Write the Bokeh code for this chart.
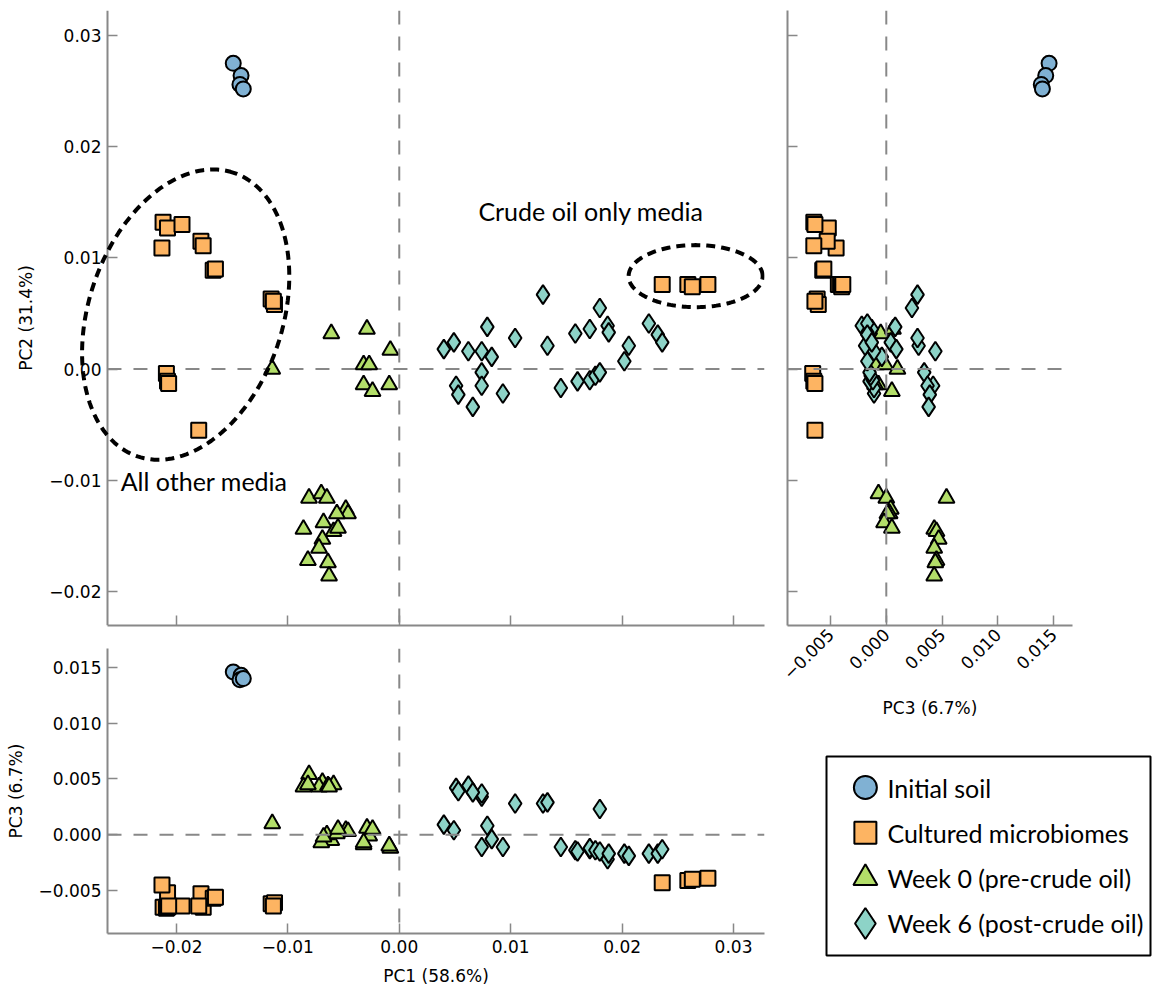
import math
from bokeh.plotting import figure
from bokeh.layouts import row, column
from bokeh.models import (Range1d, Span, FixedTicker, CustomJSTickFormatter,
                          ColumnDataSource, PolyAnnotation)
from bokeh.core.properties import value
from bokeh.embed import file_html
from bokeh.resources import INLINE

# ---------------- data ----------------
series_names = ["Initial soil", "Cultured microbiomes",
                "Week 0 (pre-crude oil)", "Week 6 (post-crude oil)"]

soil_pc1 = [-0.0149, -0.0142, -0.0143, -0.0140]
soil_pc2 = [0.0275, 0.0264, 0.0256, 0.0252]
soil_pc3 = [0.0146, 0.0143, 0.0139, 0.0140]

cult_pc1 = [-0.0212, -0.0208, -0.0195, -0.0213, -0.0178, -0.0176, -0.0167, -0.0165,
            -0.0115, -0.0112, -0.0113, -0.0209, -0.0208, -0.0207, -0.0180,
            0.0236, 0.0259, 0.0263, 0.0277]
cult_pc2 = [0.0132, 0.0127, 0.0130, 0.0109, 0.0115, 0.0111, 0.0089, 0.0090,
            0.0063, 0.0058, 0.0061, -0.0004, -0.0011, -0.0013, -0.0055,
            0.0076, 0.0076, 0.0074, 0.0076]
cult_pc3 = [-0.0065, -0.0052, -0.0064, -0.0045, -0.0053, -0.0065, -0.0057, -0.0056,
            -0.0062, -0.0061, -0.0064, -0.0066, -0.0065, -0.0064, -0.0064,
            -0.0043, -0.0041, -0.0040, -0.0039]

wk0_pc1 = [-0.0061, -0.0029, -0.0008, -0.0032, -0.0027, -0.0032, -0.0024, -0.0009, -0.0114,
           -0.0081, -0.0070, -0.0065, -0.0048, -0.0046, -0.0056, -0.0086, -0.0068,
           -0.0059, -0.0055, -0.0069, -0.0072, -0.0082, -0.0064, -0.0063]
wk0_pc2 = [0.0032, 0.0036, 0.0017, 0.0004, 0.0004, -0.0014, -0.0020, -0.0014, 0.0000,
           -0.0116, -0.0112, -0.0116, -0.0126, -0.0130, -0.0130, -0.0144, -0.0138,
           -0.0146, -0.0143, -0.0153, -0.0161, -0.0172, -0.0174, -0.0186]
wk0_pc3 = [-0.0005, 0.0006, -0.0012, -0.0009, -0.0001, -0.0007, 0.0005, -0.0010, 0.0010,
           0.0054, -0.0007, 0.0000, 0.0004, 0.0003, 0.0001, 0.0043, -0.0002,
           0.0045, 0.0005, 0.0047, 0.0043, 0.0045, 0.0044, 0.0043]

wk6_pc1 = [0.0129, 0.0133, 0.0180, 0.0104, 0.0062, 0.0074, 0.0051, 0.0074, 0.0053, 0.0066,
           0.0079, 0.0049, 0.0040, 0.0083, 0.0093, 0.0074, 0.0145, 0.0158, 0.0160, 0.0171,
           0.0171, 0.0176, 0.0180, 0.0187, 0.0188, 0.0202, 0.0206, 0.0224, 0.0232, 0.0236]
wk6_pc2 = [0.0067, 0.0021, 0.0055, 0.0028, 0.0016, -0.0003, -0.0015, -0.0015, -0.0023, -0.0034,
           0.0038, 0.0024, 0.0018, 0.0011, -0.0022, 0.0016, -0.0017, 0.0032, -0.0011, 0.0036,
           -0.0010, -0.0006, -0.0003, 0.0039, 0.0033, 0.0007, 0.0021, 0.0041, 0.0031, 0.0024]
wk6_pc3 = [0.0028, 0.0029, 0.0023, 0.0028, 0.0044, 0.0034, 0.0042, 0.0037, 0.0039, 0.0038,
           0.0008, 0.0004, 0.0009, -0.0004, -0.0011, -0.0011, -0.0011, -0.0014, -0.0015, -0.0013,
           -0.0012, -0.0014, -0.0015, -0.0022, -0.0017, -0.0017, -0.0019, -0.0017, -0.0017, -0.0013]

pc1_ticks = [-0.02, -0.01, 0.0, 0.01, 0.02, 0.03]
pc2_ticks = [-0.02, -0.01, 0.0, 0.01, 0.02, 0.03]
pc3_ticks = [-0.005, 0.0, 0.005, 0.010, 0.015]

pc1_title = "PC1 (58.6%)"
pc2_title = "PC2 (31.4%)"
pc3_title = "PC3 (6.7%)"

note_text = ["Crude oil only media", "All other media"]
note_pc1 = [0.0071, -0.0250]
note_pc2 = [0.0142, -0.0101]

# grouping ellipses: centre, full axes lengths, tilt
ell_pc1 = [-0.01917, 0.0266]
ell_pc2 = [0.0049, 0.00836]
ell_w = [0.02693, 0.01203]
ell_h = [0.01739, 0.00558]
ell_angle_deg = [71.3, 0.0]

PC1_LIM = (-0.02619, 0.03278)
PC2_LIM = (-0.02306, 0.03225)
PC3_LIM = (-0.00886, 0.0167)
MAIN_PC1_VIEW = (-0.03579, 0.03278)   # room left of the spine for labels and the ellipse

# ---------------- styles ----------------
styles = [
    dict(marker="circle", color="#80B1D3", size=15, leg=23),
    dict(marker="square", color="#FDB462", size=15, leg=22),
    dict(marker="triangle", color="#B3DE69", size=16, leg=24),
    dict(marker="diamond", color="#8DD3C7", size=19, leg=31),
]
SPINE = "#888888"
TICK_FONT = "DejaVu Sans"
NOTE_FONT = "Lato"
ZERO_DASH = "14 12"


def fmt(d):
    return CustomJSTickFormatter(args=dict(d=d), code="""
        const s = Math.abs(tick).toFixed(d);
        return (tick < -1e-12 ? "\\u2212" : "") + s;
    """)


def make_fig(width, height, xr, yr, borders):
    p = figure(width=width, height=height, title=None,
               x_range=Range1d(*xr), y_range=Range1d(*yr),
               output_backend="svg", toolbar_location=None,
               min_border_left=borders[0], min_border_right=borders[1],
               min_border_top=borders[2], min_border_bottom=borders[3])
    p.frame_align = False
    p.outline_line_color = None
    p.grid.visible = False
    p.background_fill_color = "white"
    p.border_fill_color = "white"
    for ax in p.axis:
        ax.axis_line_color = SPINE
        ax.axis_line_width = 2
        ax.major_tick_line_color = SPINE
        ax.major_tick_line_width = 1.5
        ax.major_tick_in = 10
        ax.major_tick_out = 0
        ax.minor_tick_line_color = None
        ax.major_label_text_font = TICK_FONT
        ax.major_label_text_font_size = "17px"
        ax.major_label_text_color = "black"
        ax.major_label_standoff = 6
        ax.axis_label_text_font = TICK_FONT
        ax.axis_label_text_font_size = "17px"
        ax.axis_label_text_font_style = "normal"
        ax.axis_label_text_color = "black"
        ax.axis_label_standoff = 10
    return p


def hide_labels(ax):
    ax.formatter = CustomJSTickFormatter(code='return "";')
    ax.major_label_text_font_size = "0px"
    ax.major_label_text_color = None
    ax.major_label_standoff = 0


def zero_span(p, dim):
    p.add_layout(Span(location=0, dimension=dim, line_color=SPINE,
                      line_width=2, line_dash=ZERO_DASH))


def ellipse_outline(cx, cy, w, h, ang_deg, n=180):
    th = math.radians(ang_deg)
    xs, ys = [], []
    for k in range(n):
        t = 2 * math.pi * k / n
        ex, ey = 0.5 * w * math.cos(t), 0.5 * h * math.sin(t)
        xs.append(cx + ex * math.cos(th) - ey * math.sin(th))
        ys.append(cy + ex * math.sin(th) + ey * math.cos(th))
    return xs, ys


# main panel (PC1 vs PC2)
p_main = make_fig(774, 633, MAIN_PC1_VIEW, PC2_LIM, (0, 10, 10, 8))
p_main.xaxis.ticker = FixedTicker(ticks=pc1_ticks)
p_main.xaxis.bounds = PC1_LIM
p_main.yaxis.ticker = FixedTicker(ticks=pc2_ticks)
p_main.yaxis.formatter = fmt(2)
p_main.yaxis.axis_label = pc2_title
p_main.yaxis.fixed_location = PC1_LIM[0]
hide_labels(p_main.xaxis[0])
zero_span(p_main, "height")
p_main.segment(x0=[PC1_LIM[0]], y0=[0], x1=[PC1_LIM[1]], y1=[0],
               line_color=SPINE, line_width=2, line_dash=ZERO_DASH)

# right panel (PC3 vs PC2)
p_right = make_fig(378, 730, PC3_LIM, PC2_LIM, (13, 80, 10, 105))
p_right.xaxis.ticker = FixedTicker(ticks=pc3_ticks)
p_right.xaxis.formatter = fmt(3)
p_right.xaxis.major_label_orientation = math.pi / 4
p_right.xaxis.axis_label = pc3_title
p_right.yaxis.ticker = FixedTicker(ticks=pc2_ticks)
hide_labels(p_right.yaxis[0])
zero_span(p_right, "width")
zero_span(p_right, "height")

# bottom panel (PC1 vs PC3)
p_bot = make_fig(774, 355, PC1_LIM, PC3_LIM, (107, 10, 15, 55))
p_bot.xaxis.ticker = FixedTicker(ticks=pc1_ticks)
p_bot.xaxis.formatter = fmt(2)
p_bot.xaxis.axis_label = pc1_title
p_bot.xaxis.axis_label_standoff = 10
p_bot.yaxis.ticker = FixedTicker(ticks=pc3_ticks)
p_bot.yaxis.formatter = fmt(3)
p_bot.yaxis.axis_label = pc3_title
zero_span(p_bot, "width")
zero_span(p_bot, "height")

groups = [
    (soil_pc1, soil_pc2, soil_pc3),
    (cult_pc1, cult_pc2, cult_pc3),
    (wk0_pc1, wk0_pc2, wk0_pc3),
    (wk6_pc1, wk6_pc2, wk6_pc3),
]
for (a, b, c), st in zip(groups, styles):
    src = ColumnDataSource(dict(pc1=a, pc2=b, pc3=c))
    kw = dict(source=src, marker=st["marker"], size=st["size"],
              fill_color=st["color"], line_color="black", line_width=2)
    p_main.scatter("pc1", "pc2", **kw)
    p_right.scatter("pc3", "pc2", **kw)
    p_bot.scatter("pc1", "pc3", **kw)

for cx, cy, w, h, ang in zip(ell_pc1, ell_pc2, ell_w, ell_h, ell_angle_deg):
    xs, ys = ellipse_outline(cx, cy, w, h, ang)
    p_main.add_layout(PolyAnnotation(xs=xs, ys=ys, fill_color=None, fill_alpha=0,
                                     line_color="black", line_alpha=1.0,
                                     line_width=4, line_dash="9 6"))

p_main.text(x=note_pc1, y=note_pc2, text=note_text, text_font=value(NOTE_FONT),
            text_font_size=value("25px"), text_baseline="middle", text_align="left",
            text_color="black")

# legend panel
leg = figure(width=378, height=258, title=None, x_range=Range1d(0, 1),
             y_range=Range1d(3.706, -0.684), output_backend="svg", toolbar_location=None,
             min_border_left=52, min_border_right=2, min_border_top=26, min_border_bottom=33)
leg.frame_align = False
leg.axis.visible = False
leg.grid.visible = False
leg.outline_line_color = "black"
leg.outline_line_width = 2
leg_idx = list(range(len(series_names)))
leg_src = ColumnDataSource(dict(
    x=[0.120] * len(leg_idx), tx=[0.188] * len(leg_idx), y=leg_idx,
    marker=[s["marker"] for s in styles], size=[s["leg"] for s in styles],
    color=[s["color"] for s in styles], label=series_names))
leg.scatter("x", "y", source=leg_src, marker="marker", size="size",
            fill_color="color", line_color="black", line_width=2)
leg.text("tx", "y", text="label", source=leg_src, text_font=value(NOTE_FONT),
         text_font_size=value("25px"), text_baseline="middle", text_align="left",
         text_color="black")

layout = row(column(p_main, p_bot), column(p_right, leg))

open("out.html", "w").write(file_html(layout, INLINE))
